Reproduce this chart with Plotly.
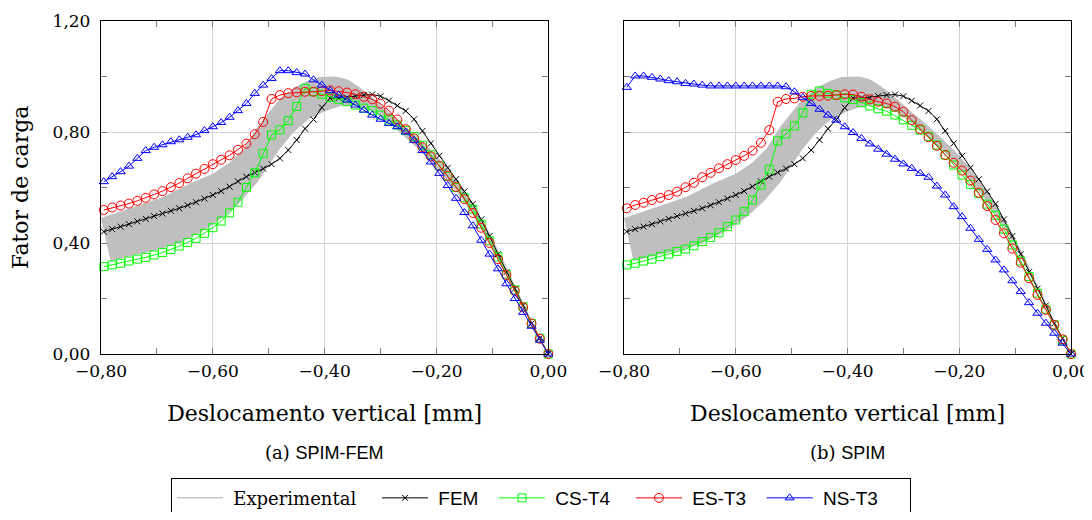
import plotly.graph_objects as go

# ---------------- data ----------------
# vertical displacement [mm] of each load step (same for every series)
disp = [0.000, -0.015, -0.030, -0.045, -0.060, -0.075, -0.090, -0.105, -0.120, -0.135,
        -0.150, -0.165, -0.180, -0.195, -0.210, -0.225, -0.240, -0.255, -0.270, -0.285,
        -0.300, -0.315, -0.330, -0.345, -0.360, -0.375, -0.390, -0.405, -0.420, -0.435,
        -0.450, -0.465, -0.480, -0.495, -0.510, -0.525, -0.540, -0.555, -0.570, -0.585,
        -0.600, -0.615, -0.630, -0.645, -0.660, -0.675, -0.690, -0.705, -0.720, -0.735,
        -0.750, -0.765, -0.780, -0.795]

# FEM reference (both panels)
fem = [0.000, 0.057, 0.110, 0.175, 0.235, 0.295, 0.360, 0.425, 0.485, 0.541,
       0.586, 0.630, 0.671, 0.714, 0.759, 0.804, 0.846, 0.876, 0.895, 0.913,
       0.929, 0.935, 0.933, 0.929, 0.924, 0.922, 0.922, 0.888, 0.845, 0.812,
       0.771, 0.735, 0.705, 0.684, 0.668, 0.654, 0.639, 0.622, 0.603, 0.587,
       0.573, 0.560, 0.547, 0.536, 0.525, 0.516, 0.506, 0.497, 0.487, 0.478,
       0.468, 0.459, 0.450, 0.441]

# (a) SPIM-FEM
cs_t4_a = [0.000, 0.057, 0.110, 0.170, 0.231, 0.287, 0.350, 0.408, 0.468, 0.522,
           0.563, 0.600, 0.640, 0.678, 0.718, 0.752, 0.784, 0.806, 0.825, 0.843,
           0.861, 0.877, 0.886, 0.897, 0.909, 0.918, 0.925, 0.936, 0.945, 0.957,
           0.892, 0.841, 0.808, 0.789, 0.723, 0.653, 0.600, 0.547, 0.509, 0.479,
           0.455, 0.435, 0.417, 0.402, 0.389, 0.377, 0.366, 0.357, 0.348, 0.342,
           0.335, 0.327, 0.321, 0.315]
es_t3_a = [0.000, 0.055, 0.110, 0.168, 0.228, 0.285, 0.342, 0.400, 0.455, 0.508,
           0.558, 0.602, 0.642, 0.678, 0.712, 0.745, 0.777, 0.810, 0.845, 0.877,
           0.902, 0.918, 0.927, 0.936, 0.942, 0.947, 0.950, 0.947, 0.945, 0.945,
           0.943, 0.940, 0.933, 0.919, 0.836, 0.792, 0.758, 0.736, 0.716, 0.700,
           0.684, 0.667, 0.650, 0.633, 0.616, 0.601, 0.587, 0.575, 0.563, 0.552,
           0.542, 0.535, 0.528, 0.519]
ns_t3_a = [0.000, 0.050, 0.100, 0.150, 0.200, 0.253, 0.307, 0.360, 0.410, 0.462,
           0.510, 0.561, 0.607, 0.651, 0.692, 0.733, 0.770, 0.800, 0.819, 0.831,
           0.846, 0.861, 0.879, 0.897, 0.915, 0.933, 0.949, 0.969, 0.988, 1.009,
           1.014, 1.021, 1.021, 0.993, 0.969, 0.939, 0.903, 0.877, 0.853, 0.834,
           0.819, 0.805, 0.790, 0.781, 0.772, 0.765, 0.754, 0.745, 0.733, 0.705,
           0.677, 0.657, 0.639, 0.621]

# (b) SPIM
cs_t4_b = [0.000, 0.050, 0.105, 0.161, 0.219, 0.279, 0.335, 0.393, 0.450, 0.500,
           0.540, 0.578, 0.611, 0.645, 0.681, 0.717, 0.753, 0.784, 0.807, 0.824,
           0.844, 0.861, 0.875, 0.884, 0.894, 0.906, 0.917, 0.923, 0.933, 0.939,
           0.948, 0.936, 0.869, 0.822, 0.793, 0.768, 0.666, 0.609, 0.555, 0.513,
           0.483, 0.459, 0.437, 0.420, 0.405, 0.390, 0.378, 0.369, 0.360, 0.351,
           0.342, 0.335, 0.327, 0.321]
es_t3_b = [0.000, 0.053, 0.105, 0.159, 0.213, 0.273, 0.329, 0.380, 0.435, 0.483,
           0.533, 0.581, 0.625, 0.661, 0.689, 0.717, 0.750, 0.781, 0.810, 0.843,
           0.873, 0.891, 0.903, 0.909, 0.918, 0.927, 0.935, 0.936, 0.933, 0.931,
           0.930, 0.930, 0.927, 0.921, 0.919, 0.909, 0.807, 0.761, 0.733, 0.714,
           0.699, 0.684, 0.669, 0.653, 0.637, 0.617, 0.601, 0.585, 0.573, 0.563,
           0.555, 0.545, 0.537, 0.525]
ns_t3_b = [0.000, 0.039, 0.075, 0.111, 0.147, 0.185, 0.225, 0.264, 0.303, 0.339,
           0.377, 0.413, 0.453, 0.495, 0.531, 0.573, 0.605, 0.637, 0.651, 0.669,
           0.685, 0.702, 0.720, 0.738, 0.757, 0.777, 0.798, 0.819, 0.843, 0.861,
           0.882, 0.903, 0.925, 0.945, 0.963, 0.966, 0.966, 0.966, 0.966, 0.966,
           0.966, 0.966, 0.966, 0.966, 0.969, 0.973, 0.975, 0.981, 0.985, 0.991,
           0.997, 1.002, 1.002, 0.961]

# experimental envelope (upper and lower bounds)
exp_up_x = [-0.800, -0.740, -0.690, -0.640, -0.600, -0.570, -0.545, -0.520, -0.500, -0.480,
            -0.455, -0.430, -0.410, -0.380, -0.360, -0.340, -0.315, -0.290, -0.260, -0.230,
            -0.200, -0.170, -0.140, -0.110, -0.080, -0.050, -0.025, 0.000]
exp_up_y = [0.490, 0.530, 0.565, 0.615, 0.650, 0.690, 0.740, 0.820, 0.870, 0.920,
            0.960, 0.985, 0.998, 1.000, 0.990, 0.965, 0.925, 0.880, 0.830, 0.775,
            0.715, 0.640, 0.555, 0.455, 0.335, 0.205, 0.100, 0.000]
exp_lo_x = [-0.783, -0.740, -0.700, -0.660, -0.620, -0.580, -0.550, -0.520, -0.500, -0.480,
            -0.455, -0.430, -0.400, -0.370, -0.340, -0.310, -0.280, -0.250, -0.220, -0.190,
            -0.160, -0.130, -0.100, -0.070, -0.040, 0.000]
exp_lo_y = [0.335, 0.355, 0.375, 0.400, 0.440, 0.495, 0.550, 0.620, 0.680, 0.740,
            0.800, 0.845, 0.875, 0.895, 0.895, 0.870, 0.825, 0.770, 0.715, 0.650,
            0.575, 0.490, 0.390, 0.275, 0.150, 0.000]

x_ticks = [-0.8, -0.6, -0.4, -0.2, 0.0]
x_ticktext = ["\u22120,80", "\u22120,60", "\u22120,40", "\u22120,20", "0,00"]
x_minor = [-0.7, -0.5, -0.3, -0.1]
y_ticks = [0.0, 0.4, 0.8, 1.2]
y_ticktext = ["0,00", "0,40", "0,80", "1,20"]
y_minor = [0.2, 0.6, 1.0]

panels = [("(a)", "SPIM-FEM", cs_t4_a, es_t3_a, ns_t3_a),
          ("(b)", "SPIM", cs_t4_b, es_t3_b, ns_t3_b)]

# ---------------- figure ----------------
# the page body has an 8 px margin, so the figure is placed 8 px in from the window edge;
# its height is kept small enough that the page never needs a scrollbar
OFF = 8
W, H = 1092 - OFF, 520 - 2 * OFF
SERIF = "DejaVu Serif"
SANS = "Liberation Sans"
NB = "\u00a0"


def px_x(p):
    return (p - OFF) / W


def px_y(p):
    return 1 - (p - OFF) / H


fig = go.Figure()

# legend entry for the experimental envelope (drawn as a grey line in the legend)
fig.add_trace(go.Scatter(x=[None], y=[None], mode="lines",
                         line=dict(color="#c4c4c4", width=1.5), legendrank=1,
                         name=NB + "<span style='font-family:DejaVu Serif;font-size:18px'>Experimental</span>" + NB * 3))

band_x = exp_up_x + exp_lo_x[::-1]
band_y = exp_up_y + exp_lo_y[::-1]

for i, (lab, sub, cs, es, ns) in enumerate(panels):
    xa = "x" if i == 0 else "x2"
    ya = "y" if i == 0 else "y2"
    fig.add_trace(go.Scatter(x=band_x, y=band_y, fill="toself", fillcolor="#bfbfbf",
                             mode="lines", line=dict(width=0, color="#bfbfbf"),
                             hoverinfo="skip", showlegend=False, xaxis=xa, yaxis=ya))

for i, (lab, sub, cs, es, ns) in enumerate(panels):
    xa = "x" if i == 0 else "x2"
    ya = "y" if i == 0 else "y2"
    first = (i == 0)
    fig.add_trace(go.Scatter(x=disp, y=fem, mode="lines+markers", name=NB + "FEM" + NB * 2,
                             line=dict(color="black", width=1),
                             marker=dict(symbol="x-thin", size=6, color="black",
                                         line=dict(color="black", width=1)),
                             showlegend=first, legendrank=2, cliponaxis=False, xaxis=xa, yaxis=ya))
    fig.add_trace(go.Scatter(x=disp, y=cs, mode="lines+markers", name=NB + "CS-T4" + NB * 3,
                             line=dict(color="#00ff00", width=1),
                             marker=dict(symbol="square-open", size=8, color="#00ff00",
                                         line=dict(color="#00ff00", width=1)),
                             showlegend=first, legendrank=3, cliponaxis=False, xaxis=xa, yaxis=ya))
    fig.add_trace(go.Scatter(x=disp, y=es, mode="lines+markers", name=NB + "ES-T3" + NB * 2,
                             line=dict(color="#ff0000", width=1),
                             marker=dict(symbol="circle-open", size=9, color="#ff0000",
                                         line=dict(color="#ff0000", width=1)),
                             showlegend=first, legendrank=4, cliponaxis=False, xaxis=xa, yaxis=ya))
    fig.add_trace(go.Scatter(x=disp, y=ns, mode="lines+markers", name=NB + "NS-T3" + NB * 5,
                             line=dict(color="#0000ff", width=1),
                             marker=dict(symbol="triangle-up-open", size=8, color="#0000ff",
                                         line=dict(color="#0000ff", width=1)),
                             showlegend=first, legendrank=5, cliponaxis=False, xaxis=xa, yaxis=ya))

axis_common = dict(showline=True, linecolor="black", linewidth=1.3, mirror="ticks",
                   ticks="inside", ticklen=6, tickcolor="#7a7a7a", tickwidth=1,
                   showgrid=True, gridcolor="#d4d4d4", gridwidth=1, zeroline=False,
                   automargin=False,
                   tickfont=dict(family=SERIF, size=17, color="black"))

xaxis = dict(axis_common, range=[-0.8, 0.0], tickmode="array", tickvals=x_ticks, ticktext=x_ticktext,
             minor=dict(tickvals=x_minor, ticks="inside", ticklen=6, tickcolor="#7a7a7a", showgrid=False),
             ticklabelstandoff=1,
             title=dict(text="Deslocamento vertical [mm]", font=dict(family=SERIF, size=22, color="black"),
                        standoff=26))
yaxis = dict(axis_common, range=[0.0, 1.2], tickmode="array", tickvals=y_ticks, ticktext=y_ticktext,
             minor=dict(tickvals=y_minor, ticks="inside", ticklen=6, tickcolor="#7a7a7a", showgrid=False),
             ticklabelstandoff=6)

xd1 = [px_x(101), px_x(548.3)]
xd2 = [px_x(624), px_x(1071)]
yd = [px_y(354), px_y(21)]

fig.update_layout(
    width=W, height=H,
    margin=dict(l=0, r=0, t=0, b=0, autoexpand=False),
    paper_bgcolor="white", plot_bgcolor="white",
    xaxis=dict(xaxis, domain=xd1, anchor="y"),
    yaxis=dict(yaxis, domain=yd, anchor="x",
               title=dict(text="Fator de carga", font=dict(family=SERIF, size=22, color="black"),
                          standoff=18)),
    xaxis2=dict(xaxis, domain=xd2, anchor="y2", ticklabeloverflow="allow"),
    yaxis2=dict(yaxis, domain=yd, anchor="x2", showticklabels=False),
    showlegend=True,
    legend=dict(orientation="h", x=px_x(171), y=px_y(478), xanchor="left", yanchor="top",
                bordercolor="black", borderwidth=1, bgcolor="white",
                font=dict(family=SANS, size=19, color="black"), itemwidth=46,
                traceorder="normal"),
)

for i, (lab, sub, cs, es, ns) in enumerate(panels):
    xc = (xd1 if i == 0 else xd2)
    fig.add_annotation(x=(xc[0] + xc[1]) / 2, y=px_y(452), xref="paper", yref="paper",
                       text=lab + " <span style='font-family:Liberation Sans'>" + sub + "</span>",
                       showarrow=False, font=dict(family=SERIF, size=18, color="black"),
                       xanchor="center", yanchor="middle")

fig.write_html("out.html")
